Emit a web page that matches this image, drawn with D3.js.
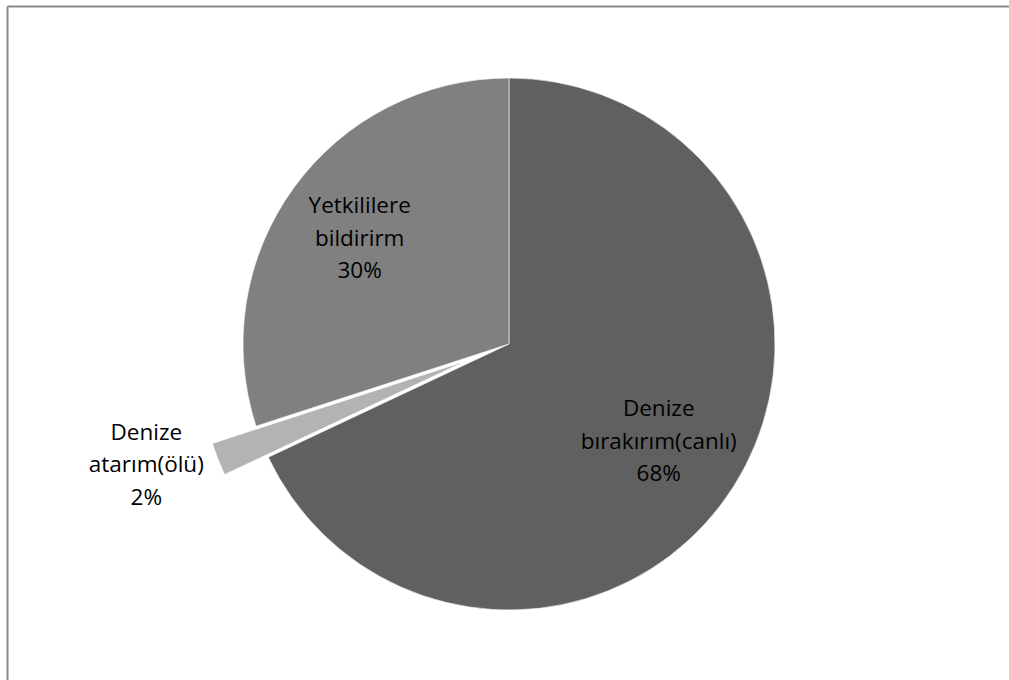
<!DOCTYPE html>
<html>
<head>
<meta charset="utf-8">
<script src="https://cdn.jsdelivr.net/npm/d3@7"></script>
<style>
  html, body { margin: 0; padding: 0; background: #fff; }
  svg { display: block; }
  text { font-family: "Open Sans", "Noto Sans", sans-serif; }
</style>
</head>
<body>
<div id="chart"></div>
<script>
// Responses: what to do with a caught sea creature
const categories = ["Denize bırakırım(canlı)", "Denize atarım(ölü)", "Yetkililere bildirirm"];
const labelLines = [["Denize", "bırakırım(canlı)"], ["Denize", "atarım(ölü)"], ["Yetkililere", "bildirirm"]];
const values = [68, 2, 30];
const colors = ["#606060", "#b3b3b3", "#808080"];
const exploded = [false, true, false];

const W = 1009, H = 680;
const cx = 509, cy = 344, radius = 266;
const explodeDist = 47;

const svg = d3.select("#chart").append("svg")
  .attr("width", W).attr("height", H);

// chart area frame (top and left edges visible)
svg.append("line").attr("x1", 7.5).attr("y1", 6.5).attr("x2", W).attr("y2", 6.5)
  .attr("stroke", "#8a8a8a").attr("stroke-width", 2);
svg.append("line").attr("x1", 7.5).attr("y1", 6.5).attr("x2", 7.5).attr("y2", H)
  .attr("stroke", "#8a8a8a").attr("stroke-width", 2);

const data = categories.map((c, i) => ({ name: c, lines: labelLines[i], value: values[i], color: colors[i], exploded: exploded[i] }));

const pie = d3.pie().value(d => d.value).sort(null);
const arcs = pie(data);
const arc = d3.arc().innerRadius(0).outerRadius(radius);
const labelArc = d3.arc().innerRadius(radius * 0.68).outerRadius(radius * 0.68);

const g = svg.append("g").attr("transform", `translate(${cx},${cy})`);

function offset(a) {
  if (!a.data.exploded) return [0, 0];
  const mid = (a.startAngle + a.endAngle) / 2;
  return [Math.sin(mid) * explodeDist, -Math.cos(mid) * explodeDist];
}

g.selectAll("path.slice").data(arcs).join("path")
  .attr("class", "slice")
  .attr("d", arc)
  .attr("fill", d => d.data.color)
  .attr("stroke", "#ffffff")
  .attr("stroke-width", 0.6)
  .attr("transform", d => { const o = offset(d); return `translate(${o[0]},${o[1]})`; });

const lineH = 32.5;
const fontSize = 22.5;

arcs.forEach(a => {
  let x, y;
  if (a.data.exploded) {
    // outside label for the pulled-out slice
    const mid = (a.startAngle + a.endAngle) / 2 + 0.035;
    const r = 385;
    x = Math.sin(mid) * r; y = -Math.cos(mid) * r - 1;
  } else {
    [x, y] = labelArc.centroid(a);
    y += 8;
    x += x < 0 ? -3 : -3;
  }
  const lines = a.data.lines.concat([a.data.value + "%"]);
  const t = g.append("text")
    .attr("text-anchor", "middle")
    .attr("font-size", fontSize)
    .attr("fill", "#000");
  lines.forEach((ln, i) => {
    t.append("tspan")
      .attr("x", x)
      .attr("y", y + (i - 1) * lineH)
      .text(ln);
  });
});
</script>
</body>
</html>
